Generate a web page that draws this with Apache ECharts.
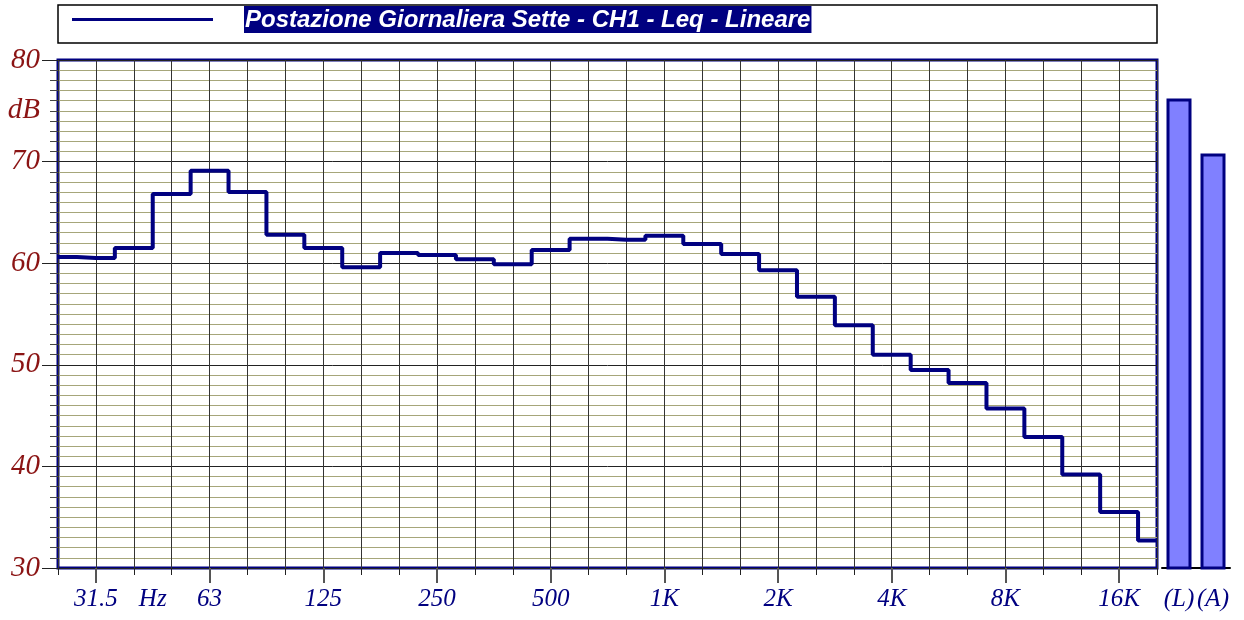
<!DOCTYPE html>
<html>
<head>
<meta charset="utf-8">
<script src="https://cdn.jsdelivr.net/npm/echarts@6/dist/echarts.min.js"></script>
<style>
html,body{margin:0;padding:0;background:#fff;}
#chart{width:1244px;height:620px;}
</style>
</head>
<body>
<div id="chart"></div>
<script>
// Third-octave bands 25 Hz .. 20 kHz (index 0..29)
const bands = ['25','31.5','40','50','63','80','100','125','160','200','250','315','400','500','630','800','1K','1.25K','1.6K','2K','2.5K','3.15K','4K','5K','6.3K','8K','10K','12.5K','16K','20K'];
const leqValues = [60.6,60.5,61.5,66.8,69.1,67.0,62.8,61.5,59.6,61.0,60.8,60.4,59.9,61.3,62.4,62.3,62.7,61.9,60.9,59.3,56.7,53.9,51.0,49.5,48.2,45.7,42.9,39.2,35.5,32.7];
const totalLabels = ['(L)','(A)'];
const totalValues = [76.2,70.8];
const xTickLabelPos = [1,2.5,4,7,10,13,16,19,22,25,28];
const xTickLabels = ['31.5','Hz','63','125','250','500','1K','2K','4K','8K','16K'];
const xMajorTicks = [1,4,7,10,13,16,19,22,25,28];
const yLabelPos = [30,40,50,60,70,75,80];
const yLabelText = ['30','40','50','60','70','dB','80'];
const seriesName = 'Postazione Giornaliera Sette - CH1 - Leq - Lineare';

const chart = echarts.init(document.getElementById('chart'), null, {renderer:'canvas'});
const serif = '"Liberation Serif", "Times New Roman", serif';
const sans = '"Liberation Sans", Arial, sans-serif';

const option = {
  backgroundColor: '#fff',
  animation: false,
  graphic: [
    {type:'rect', shape:{x:58, y:5, width:1099, height:38}, style:{fill:'none', stroke:'#000', lineWidth:1.5}, z:-1}
  ],
  legend: {
    left: 67, top: 1,
    selectedMode: false,
    icon: 'rect',
    itemWidth: 141, itemHeight: 3,
    data: [seriesName],
    formatter: n => '{g|}{t|' + n + '}',
    textStyle: {
      rich: {
        g: {width: 26},
        t: {backgroundColor:'#000080', color:'#fff', fontWeight:'bold', fontStyle:'italic', fontFamily: sans, fontSize: 24, padding:[2,1,1,1]}
      }
    }
  },
  grid: [
    {left:58, top:60, width:1099, height:508, show:true, borderColor:'#000080', borderWidth:3},
    {left:1162, top:60, width:68, height:508, show:false}
  ],
  xAxis: [
    {
      type:'value', gridIndex:0, min:0, max:29, interval:1,
      axisLine:{show:false},
      axisTick:{show:true, length:7, lineStyle:{color:'#222', width:1}},
      axisLabel:{show:true, customValues: xTickLabelPos, margin:19,
        formatter: v => { const i = xTickLabelPos.indexOf(v); return i >= 0 ? xTickLabels[i] : ''; },
        color:'#000080', fontFamily: serif, fontStyle:'italic', fontSize:25},
      splitLine:{show:true, lineStyle:{color:'#333', width:1}}
    },
    {
      type:'value', gridIndex:0, min:0, max:29, position:'bottom', offset:0,
      axisLine:{show:false},
      axisTick:{show:true, customValues: xMajorTicks, length:15, lineStyle:{color:'#555', width:2}},
      axisLabel:{show:false},
      splitLine:{show:false}
    },
    {
      type:'category', gridIndex:1, data: totalLabels,
      axisLine:{show:true, lineStyle:{color:'#000', width:2}},
      axisTick:{show:false},
      axisLabel:{interval:0, margin:19, color:'#000080', fontFamily: serif, fontStyle:'italic', fontSize:25}
    }
  ],
  yAxis: [
    {
      type:'value', gridIndex:0, min:30, max:80, interval:10,
      axisLine:{show:false},
      axisTick:{show:true, length:16, lineStyle:{color:'#222', width:1}},
      minorTick:{show:true, splitNumber:10, length:8, lineStyle:{color:'#444', width:1}},
      axisLabel:{customValues: yLabelPos, margin:18,
        formatter: v => { const i = yLabelPos.indexOf(v); return i >= 0 ? yLabelText[i] : ''; },
        color:'#8b1414', fontFamily: serif, fontStyle:'italic', fontSize:29},
      splitLine:{show:true, lineStyle:{color:'#222', width:1}},
      minorSplitLine:{show:true, lineStyle:{color:'#a6a67a', width:1.2}}
    },
    {
      type:'value', gridIndex:1, min:30, max:80, show:false, splitLine:{show:false}
    }
  ],
  series: [
    {
      name: seriesName, type:'line', xAxisIndex:0, yAxisIndex:0,
      step:'middle', symbol:'none',
      data: leqValues.map((v,i) => [i, v]),
      lineStyle:{color:'#000080', width:4},
      itemStyle:{color:'#000080'},
      z:5
    },
    {
      type:'bar', xAxisIndex:2, yAxisIndex:1,
      data: totalValues,
      barWidth:25,
      itemStyle:{color:'#8080ff', borderColor:'#000080', borderWidth:3}
    }
  ]
};
chart.setOption(option);
</script>
</body>
</html>
